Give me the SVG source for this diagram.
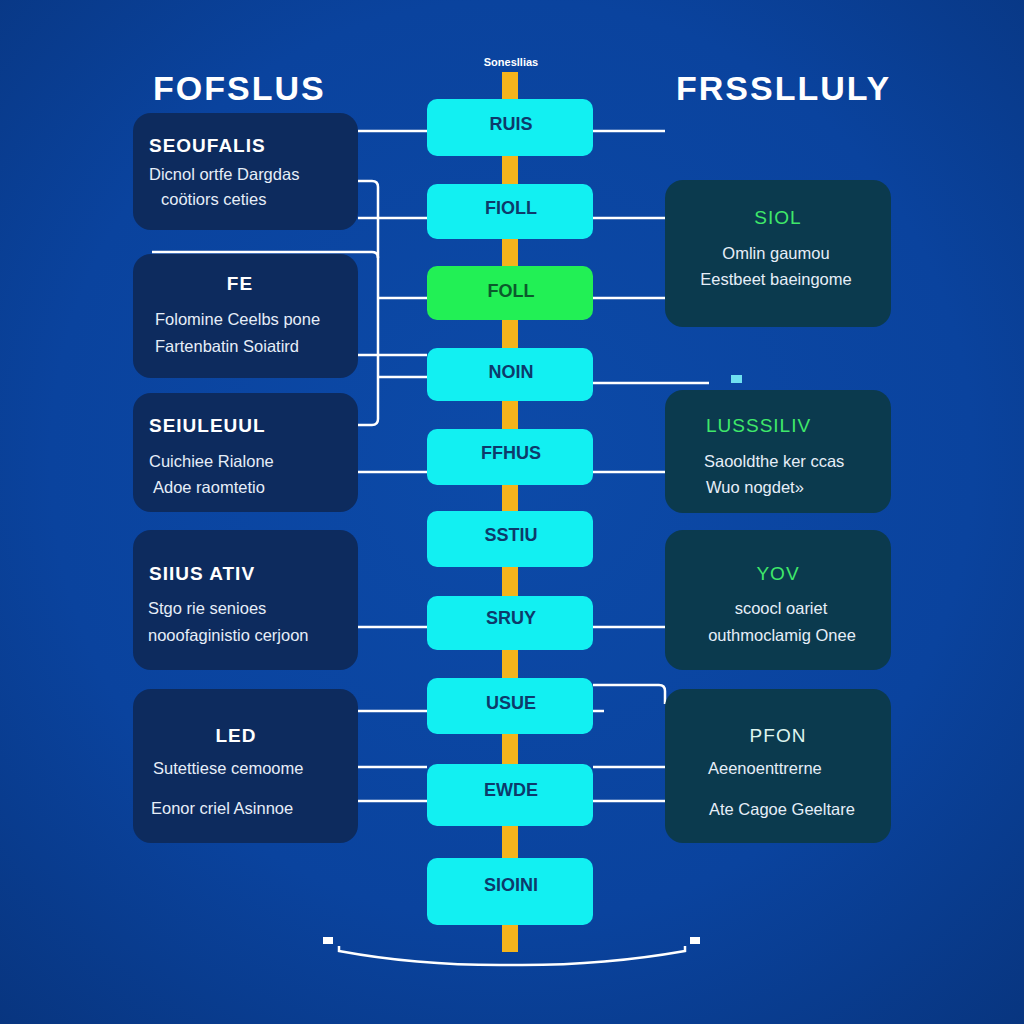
<svg xmlns="http://www.w3.org/2000/svg" width="1024" height="1024" viewBox="0 0 1024 1024">
  <defs>
    <radialGradient id="bg" cx="50%" cy="45%" r="75%">
      <stop offset="0" stop-color="#0c4aa8"/>
      <stop offset="0.6" stop-color="#0a439e"/>
      <stop offset="1" stop-color="#08357f"/>
    </radialGradient>
    <style>
      .title { font-family: "Liberation Sans", Arial, sans-serif; font-weight: bold; font-size: 34px; fill: #ffffff; letter-spacing: 2px; }
      .cap { font-family: "Liberation Sans", Arial, sans-serif; font-weight: bold; font-size: 11px; fill: #ffffff; }
      .lbox { fill: #0d2b5e; }
      .rbox { fill: #0b3a4e; }
      .cbox { fill: #12f0f2; }
      .gbox { fill: #22f055; }
      .head { font-family: "Liberation Sans", Arial, sans-serif; font-weight: bold; font-size: 19px; fill: #ffffff; letter-spacing: 1px; }
      .ghead { font-family: "Liberation Sans", Arial, sans-serif; font-size: 19px; fill: #3fe86a; letter-spacing: 1px; }
      .body { font-family: "Liberation Sans", Arial, sans-serif; font-size: 16.5px; fill: #e6eef8; }
      .clabel { font-family: "Liberation Sans", Arial, sans-serif; font-size: 18px; fill: #0d3a6b; text-anchor: middle; font-weight: bold; }
      .wire { stroke: #ffffff; stroke-width: 2.5; fill: none; }
    </style>
  </defs>

  <rect width="1024" height="1024" fill="url(#bg)"/>

  <!-- column titles -->
  <text class="title" x="153" y="100">FOFSLUS</text>
  <text class="title" x="676" y="100">FRSSLLULY</text>
  <text class="cap" x="511" y="66" text-anchor="middle">Sonesllias</text>

  <!-- central spine -->
  <rect x="502" y="72" width="16" height="880" fill="#f4b41c"/>

  <!-- connectors -->
  <g id="connectors">
    <!-- left side -->
    <path class="wire" d="M358 131 H427"/>
    <path class="wire" d="M358 218 H427"/>
    <path class="wire" d="M358 181 H372 Q378 181 378 187 V419 Q378 425 372 425 H338"/>
    <path class="wire" d="M152 252 H372 Q378 252 378 258"/>
    <path class="wire" d="M378 298 H427"/>
    <path class="wire" d="M358 355 H427"/>
    <path class="wire" d="M378 377 H427"/>
    <path class="wire" d="M358 472 H427"/>
    <path class="wire" d="M358 627 H427"/>
    <path class="wire" d="M358 711 H427"/>
    <path class="wire" d="M358 767 H427"/>
    <path class="wire" d="M358 801 H427"/>
    <!-- right side -->
    <path class="wire" d="M593 131 H665"/>
    <path class="wire" d="M593 218 H665"/>
    <path class="wire" d="M593 298 H665"/>
    <path class="wire" d="M593 383 H709"/>
    <rect x="731" y="375" width="11" height="8" fill="#6fe0f0"/>
    <path class="wire" d="M593 472 H665"/>
    <path class="wire" d="M593 627 H665"/>
    <path class="wire" d="M593 685 H659 Q665 685 665 691 V704"/>
    <path class="wire" d="M593 711 H604"/>
    <path class="wire" d="M593 767 H665"/>
    <path class="wire" d="M593 801 H665"/>
    <!-- bottom brace -->
    <path class="wire" d="M339 946 V951 Q420 966 511 965 Q600 966 685 951 V946"/>
    <rect x="323" y="937" width="10" height="7" fill="#ffffff"/>
    <rect x="690" y="937" width="10" height="7" fill="#ffffff"/>
  </g>

  <!-- left cards -->
  <g id="card-seoufalis">
    <rect class="lbox" x="133" y="113" width="225" height="117" rx="18"/>
    <text class="head" x="149" y="152">SEOUFALIS</text>
    <text class="body" x="149" y="180">Dicnol ortfe Dargdas</text>
    <text class="body" x="161" y="205">coötiors ceties</text>
  </g>
  <g id="card-fe">
    <rect class="lbox" x="133" y="254" width="225" height="124" rx="18"/>
    <text class="head" x="240" y="290" text-anchor="middle">FE</text>
    <text class="body" x="155" y="325">Folomine Ceelbs pone</text>
    <text class="body" x="155" y="352">Fartenbatin Soiatird</text>
  </g>
  <g id="card-seiuleuul">
    <rect class="lbox" x="133" y="393" width="225" height="119" rx="18"/>
    <text class="head" x="149" y="432">SEIULEUUL</text>
    <text class="body" x="149" y="467">Cuichiee Rialone</text>
    <text class="body" x="153" y="493">Adoe raomtetio</text>
  </g>
  <g id="card-siius">
    <rect class="lbox" x="133" y="530" width="225" height="140" rx="18"/>
    <text class="head" x="149" y="580">SIIUS ATIV</text>
    <text class="body" x="148" y="614">Stgo rie senioes</text>
    <text class="body" x="148" y="641">nooofaginistio cerjoon</text>
  </g>
  <g id="card-led">
    <rect class="lbox" x="133" y="689" width="225" height="154" rx="18"/>
    <text class="head" x="236" y="742" text-anchor="middle">LED</text>
    <text class="body" x="153" y="774">Sutettiese cemoome</text>
    <text class="body" x="151" y="814">Eonor criel Asinnoe</text>
  </g>

  <!-- right cards -->
  <g id="card-siol">
    <rect class="rbox" x="665" y="180" width="226" height="147" rx="18"/>
    <text class="ghead" x="778" y="224" text-anchor="middle">SIOL</text>
    <text class="body" x="776" y="259" text-anchor="middle">Omlin gaumou</text>
    <text class="body" x="776" y="285" text-anchor="middle">Eestbeet baeingome</text>
  </g>
  <g id="card-lusssiliv">
    <rect class="rbox" x="665" y="390" width="226" height="123" rx="18"/>
    <text class="ghead" x="706" y="432">LUSSSILIV</text>
    <text class="body" x="704" y="467">Saooldthe ker ccas</text>
    <text class="body" x="706" y="493">Wuo nogdet»</text>
  </g>
  <g id="card-yov">
    <rect class="rbox" x="665" y="530" width="226" height="140" rx="18"/>
    <text class="ghead" x="778" y="580" text-anchor="middle">YOV</text>
    <text class="body" x="781" y="614" text-anchor="middle">scoocl oariet</text>
    <text class="body" x="782" y="641" text-anchor="middle">outhmoclamig Onee</text>
  </g>
  <g id="card-pfon">
    <rect class="rbox" x="665" y="689" width="226" height="154" rx="18"/>
    <text class="ghead" x="778" y="742" text-anchor="middle" style="fill:#dff5ee">PFON</text>
    <text class="body" x="708" y="774">Aeenoenttrerne</text>
    <text class="body" x="709" y="815">Ate Cagoe Geeltare</text>
  </g>

  <!-- spine stages -->
  <g id="stage-ruis">
    <rect class="cbox" x="427" y="99" width="166" height="57" rx="10"/>
    <text class="clabel" x="511" y="130">RUIS</text>
  </g>
  <g id="stage-fioll">
    <rect class="cbox" x="427" y="184" width="166" height="55" rx="10"/>
    <text class="clabel" x="511" y="214">FIOLL</text>
  </g>
  <g id="stage-foll">
    <rect class="gbox" x="427" y="266" width="166" height="54" rx="10"/>
    <text class="clabel" x="511" y="297" style="fill:#0b5a2c">FOLL</text>
  </g>
  <g id="stage-noin">
    <rect class="cbox" x="427" y="348" width="166" height="53" rx="10"/>
    <text class="clabel" x="511" y="378">NOIN</text>
  </g>
  <g id="stage-ffhus">
    <rect class="cbox" x="427" y="429" width="166" height="56" rx="10"/>
    <text class="clabel" x="511" y="459">FFHUS</text>
  </g>
  <g id="stage-sstiu">
    <rect class="cbox" x="427" y="511" width="166" height="56" rx="10"/>
    <text class="clabel" x="511" y="541">SSTIU</text>
  </g>
  <g id="stage-sruy">
    <rect class="cbox" x="427" y="596" width="166" height="54" rx="10"/>
    <text class="clabel" x="511" y="624">SRUY</text>
  </g>
  <g id="stage-usue">
    <rect class="cbox" x="427" y="678" width="166" height="56" rx="10"/>
    <text class="clabel" x="511" y="709">USUE</text>
  </g>
  <g id="stage-ewde">
    <rect class="cbox" x="427" y="764" width="166" height="62" rx="10"/>
    <text class="clabel" x="511" y="796">EWDE</text>
  </g>
  <g id="stage-sioini">
    <rect class="cbox" x="427" y="858" width="166" height="67" rx="10"/>
    <text class="clabel" x="511" y="891">SIOINI</text>
  </g>
</svg>
